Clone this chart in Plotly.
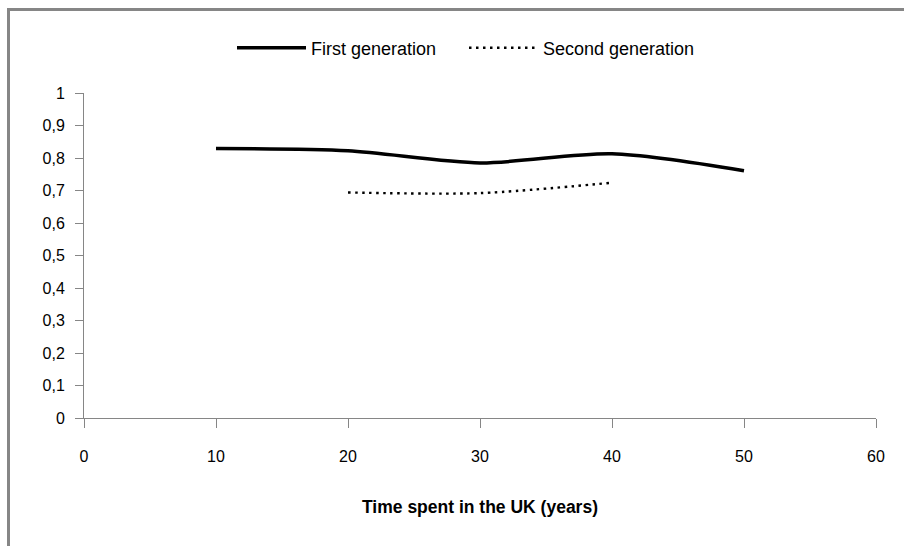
import plotly.graph_objects as go

# Data
years_first = [10, 20, 30, 40, 50]
values_first = [0.829, 0.822, 0.785, 0.813, 0.761]
years_second = [20, 30, 40]
values_second = [0.694, 0.692, 0.724]

y_tickvals = [0, 0.1, 0.2, 0.3, 0.4, 0.5, 0.6, 0.7, 0.8, 0.9, 1]
y_ticktext = ["0", "0,1", "0,2", "0,3", "0,4", "0,5", "0,6", "0,7", "0,8", "0,9", "1"]
x_tickvals = [0, 10, 20, 30, 40, 50, 60]

FONT = "Liberation Sans Narrow, Liberation Sans, Arial, sans-serif"
GRAY = "#868686"

fig = go.Figure()
fig.add_trace(go.Scatter(
    x=years_first, y=values_first, mode="lines", name="First generation",
    line=dict(color="black", width=3.5, shape="spline", smoothing=0.8),
))
fig.add_trace(go.Scatter(
    x=years_second, y=values_second, mode="lines", name="Second generation",
    line=dict(color="black", width=2.4, shape="spline", smoothing=0.8, dash="2.5px,4.5px"),
))

fig.update_layout(
    width=904, height=546,
    margin=dict(l=84, r=28, t=93, b=128),
    paper_bgcolor="white", plot_bgcolor="white",
    font=dict(family=FONT, size=18, color="black"),
    showlegend=True,
    legend=dict(
        orientation="h", x=(232 - 84) / 792, y=(418 - 48) / 325,
        xanchor="left", yanchor="middle",
        font=dict(family=FONT, size=18, color="black"),
        itemwidth=69, entrywidth=148, tracegroupgap=0,
    ),
    xaxis=dict(
        range=[0, 60], tickvals=x_tickvals, showgrid=False, zeroline=False,
        showline=True, linecolor=GRAY, linewidth=1,
        ticks="outside", ticklen=9, tickcolor=GRAY, tickwidth=1,
        tickfont=dict(family=FONT, size=16, color="black"),
        ticklabelstandoff=15,
        title=dict(text="<b>Time spent in the UK (years)</b>",
                   font=dict(family=FONT, size=17.5, color="black"), standoff=36),
    ),
    yaxis=dict(
        range=[0, 1], tickvals=y_tickvals, ticktext=y_ticktext, showgrid=False,
        zeroline=False, showline=True, linecolor=GRAY, linewidth=1,
        ticks="outside", ticklen=8, tickcolor=GRAY, tickwidth=1,
        tickfont=dict(family=FONT, size=16, color="black"),
        ticklabelstandoff=7,
    ),
    shapes=[
        dict(type="line", xref="paper", yref="paper",
             x0=(7 - 84) / 792, x1=(904 - 84) / 792,
             y0=(418 - 9.5) / 325, y1=(418 - 9.5) / 325,
             line=dict(color=GRAY, width=3)),
        dict(type="line", xref="paper", yref="paper",
             x0=(8.5 - 84) / 792, x1=(8.5 - 84) / 792,
             y0=(418 - 8) / 325, y1=(418 - 546) / 325,
             line=dict(color=GRAY, width=3)),
    ],
)

fig.write_html("out.html", config={"displayModeBar": False},
               post_script="document.body.style.margin='0px';")
